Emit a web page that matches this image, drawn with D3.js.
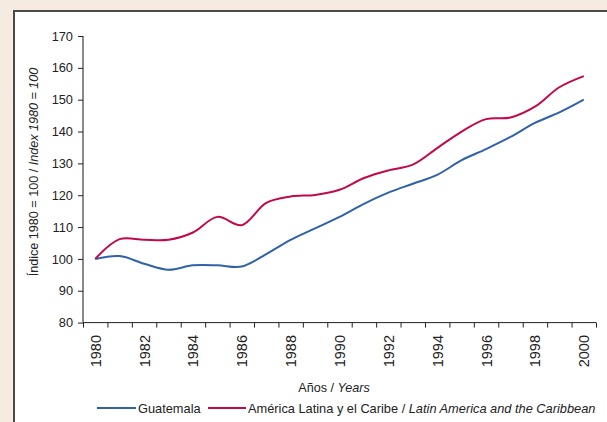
<!DOCTYPE html>
<html>
<head>
<meta charset="utf-8">
<script src="https://cdn.jsdelivr.net/npm/d3@7"></script>
<style>
  body { margin: 0; background: #f5ebe0; }
  svg { display: block; font-family: Arial, "Liberation Sans", sans-serif; }
</style>
</head>
<body>
<svg id="chart" width="607" height="422"></svg>
<script>
// years and index values (1980 = 100)
var years = d3.range(1980, 2001);
var guatemala = [100, 100.9, 98.5, 96.6, 98.0, 98.0, 97.6, 101.5, 106.0, 109.6, 113.2,
                 117.3, 120.8, 123.6, 126.4, 131.0, 134.5, 138.3, 142.7, 146.0, 150.0];
var latam = [100, 106.2, 106.0, 106.0, 108.3, 113.2, 110.6, 117.6, 119.6, 120.1, 121.7,
             125.4, 127.8, 129.6, 134.8, 140.0, 143.9, 144.4, 147.8, 153.9, 157.4];
var yTicks = [80, 90, 100, 110, 120, 130, 140, 150, 160, 170];
var seriesNames = ["Guatemala", "América Latina y el Caribe / "];

var svg = d3.select("#chart");

// white panel with dark frame
svg.append("rect").attr("x", 13).attr("y", 10).attr("width", 600).attr("height", 420)
  .attr("fill", "#fff");
svg.append("path").attr("d", "M14,422V11H607").attr("fill", "none")
  .attr("stroke", "#4a4a4a").attr("stroke-width", 2);

var x = d3.scaleLinear().domain([1979.5, 2000.5]).range([83, 596]);
var y = d3.scaleLinear().domain([80, 170]).range([322.6, 36]);

// y axis
var yAxis = svg.append("g").attr("transform", "translate(83,0)")
  .call(d3.axisLeft(y).tickValues(yTicks).tickSize(5).tickPadding(5));
yAxis.select(".domain").attr("stroke", "#8a8a8a").attr("stroke-width", 2)
  .attr("d", "M0," + y(170) + "V" + y(80));
yAxis.selectAll(".tick line").attr("stroke", "#222");
yAxis.selectAll("text").attr("font-size", 12.8).attr("fill", "#222").style("font-family", "Arial, 'Liberation Sans', sans-serif");

// x axis: ticks between years
var xAxis = svg.append("g").attr("transform", "translate(0," + y(80) + ")")
  .call(d3.axisBottom(x).tickValues(d3.range(1979.5, 2001, 1)).tickSize(5).tickFormat(""));
xAxis.select(".domain").attr("stroke", "#222").attr("d", "M83,0H596");
xAxis.selectAll(".tick line").attr("stroke", "#222");

// x labels every other year, rotated
svg.append("g").selectAll("text")
  .data(years.filter(function(d) { return d % 2 === 0; }))
  .enter().append("text")
  .attr("transform", function(d) { return "translate(" + (x(d) + 5.5) + ",335) rotate(-90)"; })
  .attr("text-anchor", "end")
  .attr("font-size", 14.5)
  .attr("fill", "#222")
  .text(function(d) { return d; });

// axis titles
svg.append("text").attr("x", 334).attr("y", 392).attr("text-anchor", "middle")
  .attr("font-size", 12.6).attr("fill", "#222")
  .text("Años / ").append("tspan").attr("font-style", "italic").text("Years");

var yt = svg.append("text").attr("transform", "translate(38,172) rotate(-90)")
  .attr("text-anchor", "middle").attr("font-size", 12.6).attr("fill", "#222")
  .text("Índice 1980 = 100 / ");
yt.append("tspan").attr("font-style", "italic").text("Index 1980 = 100");

// lines
var line = d3.line()
  .x(function(d, i) { return x(years[i]); })
  .y(function(d) { return y(d); })
  .curve(d3.curveCatmullRom.alpha(0.5));

svg.append("path").datum(guatemala).attr("d", line)
  .attr("fill", "none").attr("stroke", "#2f62a6").attr("stroke-width", 2);
svg.append("path").datum(latam).attr("d", line)
  .attr("fill", "none").attr("stroke", "#c2094b").attr("stroke-width", 2);

// legend
var lg = svg.append("g");
lg.append("line").attr("x1", 97).attr("x2", 136).attr("y1", 408).attr("y2", 408)
  .attr("stroke", "#2f62a6").attr("stroke-width", 2);
lg.append("text").attr("x", 138).attr("y", 412.5).attr("font-size", 12.8).attr("fill", "#222")
  .text(seriesNames[0]);
lg.append("line").attr("x1", 208).attr("x2", 246).attr("y1", 408).attr("y2", 408)
  .attr("stroke", "#c2094b").attr("stroke-width", 2);
var lt = lg.append("text").attr("x", 248).attr("y", 412.5).attr("font-size", 12.8).attr("fill", "#222")
  .text(seriesNames[1]);
lt.append("tspan").attr("font-style", "italic").text("Latin America and the Caribbean");
</script>
</body>
</html>
